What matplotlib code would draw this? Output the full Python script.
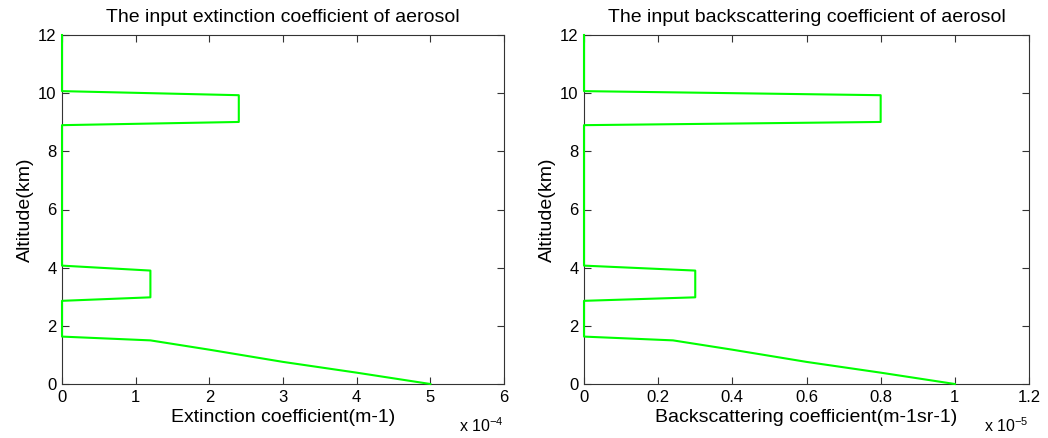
import numpy as np
import matplotlib.pyplot as plt

plt.rcParams['font.family'] = ['Liberation Sans', 'DejaVu Sans']
plt.rcParams['mathtext.default'] = 'regular'

# aerosol profile, altitude (km) and values
alt = [0.0, 0.39, 0.76, 1.18, 1.38, 1.50, 1.63, 2.86, 2.98, 3.90, 4.07,
       8.90, 9.01, 9.93, 10.07, 12.0]
ext = [5.0, 4.0, 3.0, 2.0, 1.5, 1.2, 0.0, 0.0, 1.2, 1.2, 0.0,
       0.0, 2.4, 2.4, 0.0, 0.0]          # x 1e-4 m-1
bsc = [1.0, 0.8, 0.6, 0.4, 0.3, 0.24, 0.0, 0.0, 0.3, 0.3, 0.0,
       0.0, 0.8, 0.8, 0.0, 0.0]          # x 1e-5 m-1 sr-1

ext_ticks = [0, 1, 2, 3, 4, 5, 6]
bsc_ticks = [0, 0.2, 0.4, 0.6, 0.8, 1.0, 1.2]
alt_ticks = [0, 2, 4, 6, 8, 10, 12]

fig = plt.figure(figsize=(10.48, 4.38), dpi=100)
ax1 = fig.add_axes([62/1048, 1-384/438, 442/1048, 349/438])
ax2 = fig.add_axes([584/1048, 1-384/438, 445/1048, 349/438])


def style(ax, xticks, xlab, title, expo):
    ax.set_xlim(xticks[0], xticks[-1])
    ax.set_ylim(0, 12)
    ax.set_xticks(xticks)
    ax.set_xticklabels(['%g' % t for t in xticks])
    ax.set_yticks(alt_ticks)
    ax.tick_params(direction='in', top=True, right=True, length=5,
                   width=0.8, color='#333333', labelsize=12, pad=4)
    for s in ax.spines.values():
        s.set_color('#333333')
        s.set_linewidth(0.8)
    ax.set_xlabel(xlab, fontsize=14, labelpad=3)
    ax.set_ylabel('Altitude(km)', fontsize=14, labelpad=3)
    ax.set_title(title, fontsize=14, pad=9)
    ax.text(1.0, -0.145, 'x 10$^{%d}$' % expo, transform=ax.transAxes,
            ha='right', va='bottom', fontsize=11.5)


ax1.plot(ext, alt, color='#00ff00', lw=1.5, clip_on=False, zorder=3)
style(ax1, ext_ticks, 'Extinction coefficient(m-1)',
      'The input extinction coefficient of aerosol', -4)

ax2.plot(bsc, alt, color='#00ff00', lw=1.5, clip_on=False, zorder=3)
style(ax2, bsc_ticks, 'Backscattering coefficient(m-1sr-1)',
      'The input backscattering coefficient of aerosol', -5)

plt.savefig('out.png', dpi=100)
